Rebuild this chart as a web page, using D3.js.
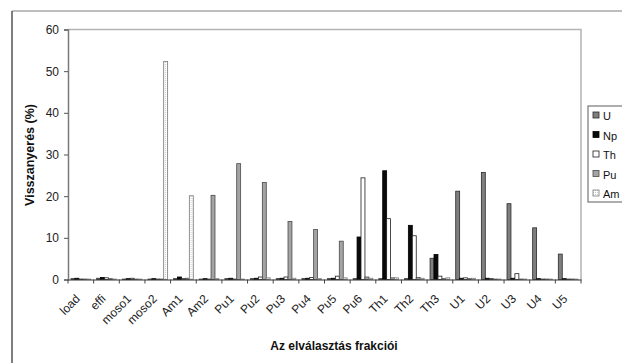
<!DOCTYPE html>
<html>
<head>
<meta charset="utf-8">
<script src="https://cdn.jsdelivr.net/npm/d3@7"></script>
<style>
  html, body { margin: 0; padding: 0; background: #fff; }
  svg { display: block; font-family: "Liberation Sans", Arial, sans-serif; }
</style>
</head>
<body>
<svg id="chart" width="622" height="363"></svg>
<script>
// Fractions along the separation scheme
const categories = ["load", "effi", "moso1", "moso2", "Am1", "Am2", "Pu1", "Pu2", "Pu3", "Pu4",
                    "Pu5", "Pu6", "Th1", "Th2", "Th3", "U1", "U2", "U3", "U4", "U5"];
const seriesNames = ["U", "Np", "Th", "Pu", "Am"];

// Recovery (%) of each element in each fraction
const valuesU  = [0.2, 0.3, 0.1, 0.1, 0.2, 0.1, 0.2, 0.2, 0.2, 0.2, 0.2, 0.2, 0.2, 0.2, 5.1, 21.2, 25.7, 18.2, 12.4, 6.1];
const valuesNp = [0.3, 0.5, 0.2, 0.2, 0.6, 0.2, 0.3, 0.3, 0.3, 0.3, 0.3, 10.2, 26.1, 13.0, 6.0, 0.3, 0.3, 0.3, 0.2, 0.2];
const valuesTh = [0.1, 0.4, 0.3, 0.1, 0.2, 0.1, 0.1, 0.6, 0.6, 0.5, 0.8, 24.4, 14.6, 10.5, 0.8, 0.4, 0.2, 1.4, 0.1, 0.1];
const valuesPu = [0.1, 0.2, 0.1, 0.1, 0.3, 20.2, 27.8, 23.3, 13.9, 12.0, 9.2, 0.6, 0.4, 0.5, 0.2, 0.2, 0.1, 0.1, 0.1, 0.1];
const valuesAm = [0.1, 0.1, 0.1, 52.3, 20.1, 0.2, 0.1, 0.4, 0.3, 0.2, 0.4, 0.3, 0.4, 0.3, 0.4, 0.3, 0.1, 0.1, 0.1, 0.1];

const yTicks = [0, 10, 20, 30, 40, 50, 60];
const yTitle = "Visszanyerés (%)";
const xTitle = "Az elválasztás frakciói";

const seriesValues = { U: valuesU, Np: valuesNp, Th: valuesTh, Pu: valuesPu, Am: valuesAm };

const svg = d3.select("#chart");

// dotted fill used for the Am series
const defs = svg.append("defs");
const pat = defs.append("pattern")
  .attr("id", "amDots").attr("patternUnits", "userSpaceOnUse")
  .attr("width", 2).attr("height", 2);
pat.append("rect").attr("width", 2).attr("height", 2).attr("fill", "#ffffff");
pat.append("rect").attr("width", 1).attr("height", 1).attr("fill", "#c8c8c8");

const styles = {
  U:  { fill: "#7f7f7f", stroke: "#2a2a2a" },
  Np: { fill: "#0a0a0a", stroke: "#000000" },
  Th: { fill: "#ffffff", stroke: "#1e1e1e" },
  Pu: { fill: "#a4a4a4", stroke: "#4a4a4a" },
  Am: { fill: "url(#amDots)", stroke: "#7a7a7a" }
};

// chart frame
svg.append("line").attr("x1", 12).attr("x2", 622).attr("y1", 11).attr("y2", 11)
  .attr("stroke", "#a9a9a9").attr("stroke-width", 1.5);
svg.append("line").attr("x1", 12).attr("x2", 12).attr("y1", 11).attr("y2", 363)
  .attr("stroke", "#555").attr("stroke-width", 1.5);

const plot = { left: 68, right: 581, top: 29.5, bottom: 279.5 };

const x = d3.scaleBand().domain(categories).range([plot.left, plot.right]).paddingInner(0).paddingOuter(0);
const xs = d3.scaleBand().domain(seriesNames).range([0, x.bandwidth()]).paddingInner(0).paddingOuter(0.75);
const y = d3.scaleLinear().domain([0, 60]).range([plot.bottom, plot.top]);

// plot area border (top and right)
svg.append("path")
  .attr("d", `M${plot.left},${plot.top}H${plot.right}V${plot.bottom}`)
  .attr("fill", "none").attr("stroke", "#b4b4b4").attr("stroke-width", 1.5);

// bars
const rows = categories.map((c, i) => ({ cat: c, vals: seriesNames.map(s => ({ s, v: seriesValues[s][i] })) }));
const groups = svg.append("g").selectAll("g").data(rows).join("g")
  .attr("transform", d => `translate(${x(d.cat)},0)`);
groups.selectAll("rect").data(d => d.vals).join("rect")
  .attr("x", d => xs(d.s))
  .attr("width", xs.bandwidth())
  .attr("y", d => y(d.v))
  .attr("height", d => y(0) - y(d.v))
  .attr("fill", d => styles[d.s].fill)
  .attr("stroke", d => styles[d.s].stroke)
  .attr("stroke-width", 0.8);

// y axis
const yAxis = svg.append("g").attr("transform", `translate(${plot.left},0)`)
  .call(d3.axisLeft(y).tickValues(yTicks).tickSize(4).tickPadding(5).tickFormat(d3.format("d")));
yAxis.select(".domain").attr("stroke", "#7a7a7a").attr("stroke-width", 1.5);
yAxis.selectAll(".tick line").attr("stroke", "#555");
yAxis.selectAll("text").attr("font-size", 12).attr("fill", "#222");

// x axis: boundary ticks and rotated labels
const xAxis = svg.append("g").attr("transform", `translate(0,${plot.bottom})`)
  .call(d3.axisBottom(x).tickSize(0).tickPadding(0));
xAxis.select(".domain").attr("stroke", "#333").attr("stroke-width", 1.2);
xAxis.selectAll(".tick text")
  .attr("font-size", 12).attr("fill", "#222")
  .attr("text-anchor", "end")
  .attr("dy", "0.35em")
  .attr("transform", "translate(-3,17) rotate(-45)");

const bounds = d3.range(categories.length + 1).map(i => plot.left + i * x.step());
svg.append("g").selectAll("line").data(bounds).join("line")
  .attr("x1", d => d).attr("x2", d => d)
  .attr("y1", plot.bottom).attr("y2", plot.bottom + 4)
  .attr("stroke", "#444").attr("stroke-width", 1);

// axis titles
svg.append("text")
  .attr("transform", `translate(34,155) rotate(-90)`)
  .attr("text-anchor", "middle")
  .attr("font-size", 12.5).attr("font-weight", "bold").attr("fill", "#111")
  .text(yTitle);
svg.append("text")
  .attr("x", 334).attr("y", 350)
  .attr("text-anchor", "middle")
  .attr("font-size", 12).attr("font-weight", "bold").attr("fill", "#111")
  .text(xTitle);

// legend
const lg = svg.append("g").attr("transform", "translate(588,106)");
lg.append("rect").attr("width", 60).attr("height", 96)
  .attr("fill", "#fff").attr("stroke", "#777").attr("stroke-width", 1.2);
const items = lg.selectAll("g").data(seriesNames).join("g")
  .attr("transform", (d, i) => `translate(5,${10 + i * 19.5})`);
items.append("rect").attr("x", 0).attr("y", -4).attr("width", 6).attr("height", 6)
  .attr("fill", d => styles[d].fill).attr("stroke", d => styles[d].stroke).attr("stroke-width", 0.8);
items.append("text").attr("x", 10).attr("y", 4)
  .attr("font-size", 11).attr("fill", "#111")
  .text(d => d);
</script>
</body>
</html>
